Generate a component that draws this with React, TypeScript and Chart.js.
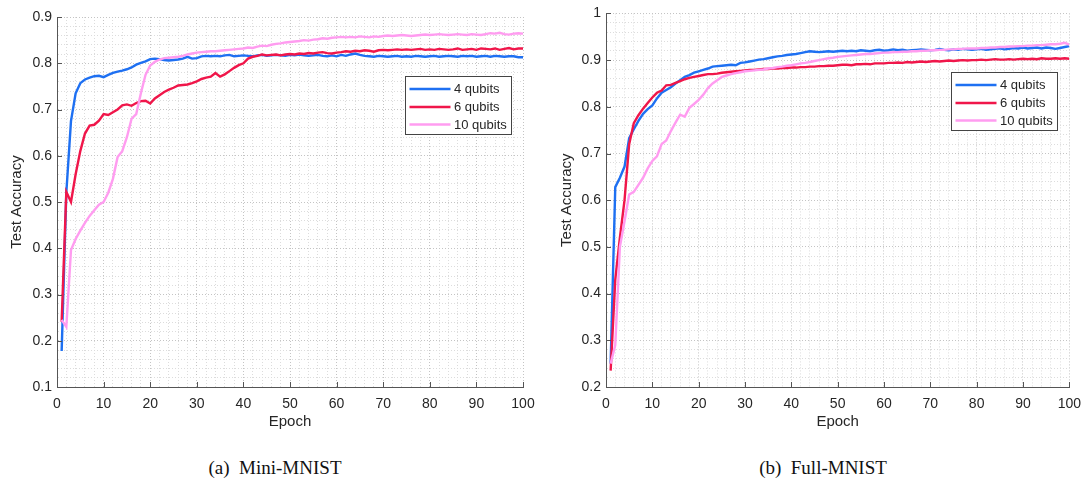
import React, { useEffect, useRef } from "react";
import { Chart, registerables } from "chart.js";

Chart.register(...registerables);

const EPOCHS: number[] = Array.from({ length: 100 }, (_, i) => i + 1);
const SERIES_LABELS = ["4 qubits", "6 qubits", "10 qubits"];
const SERIES_COLORS = ["#1e70f2", "#f0164a", "#ff9cf0"];

// (a) Mini-MNIST
const MINI_4Q = [
  0.178, 0.520, 0.675, 0.735, 0.757, 0.765, 0.769, 0.772, 0.773, 0.770,
  0.775, 0.779, 0.782, 0.784, 0.787, 0.791, 0.797, 0.801, 0.804, 0.809,
  0.810, 0.809, 0.807, 0.806, 0.807, 0.808, 0.810, 0.814, 0.810, 0.811,
  0.815, 0.816, 0.815, 0.816, 0.815, 0.817, 0.818, 0.815, 0.816, 0.817,
  0.816, 0.815, 0.817, 0.818, 0.816, 0.817, 0.818, 0.817, 0.816, 0.818,
  0.817, 0.819, 0.817, 0.816, 0.817, 0.818, 0.816, 0.815, 0.817, 0.815,
  0.818, 0.816, 0.819, 0.821, 0.818, 0.816, 0.815, 0.814, 0.816, 0.815,
  0.814, 0.815, 0.816, 0.814, 0.815, 0.814, 0.816, 0.815, 0.814, 0.815,
  0.816, 0.814, 0.815, 0.816, 0.815, 0.814, 0.816, 0.815, 0.816, 0.814,
  0.815, 0.816, 0.814, 0.816, 0.815, 0.814, 0.815, 0.815, 0.813, 0.813,
];
const MINI_6Q = [
  0.241, 0.522, 0.500, 0.560, 0.610, 0.648, 0.665, 0.667, 0.676, 0.690,
  0.688, 0.694, 0.700, 0.709, 0.711, 0.708, 0.714, 0.718, 0.719, 0.713,
  0.724, 0.731, 0.738, 0.743, 0.747, 0.752, 0.753, 0.754, 0.757, 0.761,
  0.766, 0.769, 0.771, 0.779, 0.771, 0.776, 0.783, 0.790, 0.796, 0.800,
  0.810, 0.814, 0.816, 0.819, 0.817, 0.818, 0.819, 0.817, 0.819, 0.820,
  0.819, 0.821, 0.820, 0.822, 0.821, 0.823, 0.824, 0.822, 0.821, 0.823,
  0.824, 0.826, 0.825, 0.827, 0.826, 0.828, 0.827, 0.825, 0.828, 0.829,
  0.828, 0.829, 0.830, 0.829, 0.830, 0.829, 0.830, 0.831, 0.829, 0.830,
  0.829, 0.831, 0.830, 0.829, 0.830, 0.832, 0.829, 0.830, 0.831, 0.829,
  0.832, 0.831, 0.830, 0.832, 0.829, 0.831, 0.833, 0.830, 0.832, 0.832,
];
const MINI_10Q = [
  0.245, 0.230, 0.396, 0.420, 0.438, 0.455, 0.470, 0.482, 0.494, 0.500,
  0.520, 0.550, 0.597, 0.610, 0.640, 0.680, 0.690, 0.735, 0.775, 0.795,
  0.803, 0.808, 0.811, 0.812, 0.813, 0.814, 0.816, 0.819, 0.821, 0.823,
  0.824, 0.825, 0.826, 0.826, 0.827, 0.828, 0.829, 0.830, 0.831, 0.832,
  0.834, 0.833, 0.836, 0.838, 0.837, 0.840, 0.842, 0.843, 0.845, 0.846,
  0.847, 0.848, 0.850, 0.849, 0.851, 0.852, 0.854, 0.853, 0.855, 0.856,
  0.857, 0.856, 0.857, 0.856, 0.858, 0.857, 0.856, 0.858, 0.857, 0.859,
  0.860, 0.859, 0.860, 0.861, 0.860, 0.859, 0.860, 0.861, 0.862, 0.861,
  0.862, 0.863, 0.862, 0.861, 0.862, 0.863, 0.862, 0.861, 0.863, 0.862,
  0.861, 0.863, 0.865, 0.864, 0.866, 0.863, 0.862, 0.864, 0.865, 0.864,
];

// (b) Full-MNIST
const FULL_4Q = [
  0.250, 0.628, 0.648, 0.672, 0.733, 0.752, 0.770, 0.785, 0.795, 0.803,
  0.818, 0.830, 0.836, 0.842, 0.850, 0.857, 0.864, 0.868, 0.873, 0.876,
  0.879, 0.882, 0.886, 0.887, 0.888, 0.889, 0.890, 0.889, 0.894, 0.895,
  0.897, 0.899, 0.901, 0.902, 0.904, 0.906, 0.908, 0.909, 0.911, 0.912,
  0.913, 0.915, 0.917, 0.919, 0.918, 0.917, 0.918, 0.919, 0.918, 0.919,
  0.920, 0.919, 0.920, 0.919, 0.921, 0.920, 0.919, 0.921, 0.922, 0.920,
  0.921, 0.923, 0.921, 0.922, 0.920, 0.921, 0.922, 0.923, 0.922, 0.921,
  0.922, 0.924, 0.922, 0.921, 0.923, 0.922, 0.924, 0.923, 0.922, 0.923,
  0.924, 0.922, 0.923, 0.924, 0.925, 0.923, 0.924, 0.926, 0.925, 0.927,
  0.925, 0.926, 0.927, 0.925, 0.927, 0.926, 0.924, 0.926, 0.928, 0.930,
];
const FULL_6Q = [
  0.235, 0.430, 0.520, 0.600, 0.720, 0.765, 0.782, 0.796, 0.808, 0.820,
  0.830, 0.835, 0.846, 0.847, 0.851, 0.855, 0.859, 0.862, 0.864, 0.866,
  0.868, 0.870, 0.870, 0.871, 0.873, 0.874, 0.875, 0.876, 0.877, 0.878,
  0.879, 0.879, 0.880, 0.881, 0.881, 0.882, 0.882, 0.883, 0.883, 0.884,
  0.884, 0.885, 0.885, 0.886, 0.886, 0.887, 0.887, 0.888, 0.888, 0.889,
  0.890, 0.890, 0.889, 0.891, 0.891, 0.892, 0.891, 0.893, 0.893, 0.893,
  0.894, 0.894, 0.895, 0.894, 0.896, 0.895, 0.896, 0.897, 0.896, 0.897,
  0.898, 0.897, 0.898, 0.899, 0.898, 0.899, 0.900, 0.899, 0.900, 0.900,
  0.901, 0.900, 0.901, 0.902, 0.901, 0.901, 0.902, 0.901, 0.902, 0.903,
  0.902, 0.903, 0.902, 0.904, 0.903, 0.903, 0.904, 0.903, 0.904, 0.903,
];
const FULL_10Q = [
  0.250, 0.290, 0.500, 0.555, 0.612, 0.618, 0.633, 0.648, 0.668, 0.684,
  0.694, 0.720, 0.728, 0.748, 0.766, 0.783, 0.779, 0.798, 0.806, 0.815,
  0.826, 0.840, 0.850, 0.857, 0.864, 0.867, 0.870, 0.872, 0.874, 0.876,
  0.877, 0.878, 0.879, 0.880, 0.882, 0.883, 0.885, 0.886, 0.888, 0.889,
  0.891, 0.893, 0.894, 0.896, 0.898, 0.900, 0.902, 0.904, 0.905, 0.907,
  0.908, 0.909, 0.910, 0.911, 0.912, 0.913, 0.913, 0.914, 0.915, 0.916,
  0.916, 0.917, 0.917, 0.918, 0.918, 0.919, 0.919, 0.920, 0.920, 0.921,
  0.921, 0.922, 0.922, 0.923, 0.923, 0.924, 0.924, 0.925, 0.925, 0.925,
  0.926, 0.926, 0.927, 0.927, 0.928, 0.928, 0.929, 0.929, 0.930, 0.930,
  0.931, 0.931, 0.932, 0.932, 0.933, 0.934, 0.934, 0.935, 0.937, 0.933,
];

const X_TITLE = "Epoch";
const Y_TITLE = "Test Accuracy";
const CAPTION_A = "(a)  Mini-MNIST";
const CAPTION_B = "(b)  Full-MNIST";

const SANS = "'Liberation Sans', Arial, sans-serif";
const TEXT_COLOR = "#262626";
const AXIS_COLOR = "#555555";

const isMajorY = (v: number) => Math.abs(v * 10 - Math.round(v * 10)) < 1e-6;
const isMajorX = (v: number) => Math.abs(v % 10) < 1e-6;

const inwardTicks = {
  id: "inwardTicks",
  afterDatasetsDraw(chart: any) {
    const { ctx, chartArea, scales } = chart;
    ctx.save();
    ctx.strokeStyle = AXIS_COLOR;
    ctx.lineWidth = 1;
    scales.x.ticks.forEach((t: any) => {
      if (!isMajorX(t.value)) return;
      const px = Math.round(scales.x.getPixelForValue(t.value)) + 0.5;
      ctx.beginPath();
      ctx.moveTo(px, chartArea.bottom);
      ctx.lineTo(px, chartArea.bottom - 5);
      ctx.stroke();
    });
    scales.y.ticks.forEach((t: any) => {
      if (!isMajorY(t.value)) return;
      const py = Math.round(scales.y.getPixelForValue(t.value)) + 0.5;
      ctx.beginPath();
      ctx.moveTo(chartArea.left, py);
      ctx.lineTo(chartArea.left + 5, py);
      ctx.stroke();
    });
    ctx.restore();
  },
};

const boxLegend = {
  id: "boxLegend",
  afterDraw(chart: any) {
    const { ctx, chartArea } = chart;
    const w = 106;
    const h = 58;
    const left = Math.round(chartArea.right - 12.5 - w) + 0.5;
    const top = Math.round(chartArea.top + 58.5) + 0.5;
    ctx.save();
    ctx.fillStyle = "#ffffff";
    ctx.fillRect(left, top, w, h);
    ctx.strokeStyle = "#444444";
    ctx.lineWidth = 1;
    ctx.strokeRect(left, top, w, h);
    const rows = [12.5, 30.5, 48];
    chart.data.datasets.forEach((ds: any, i: number) => {
      const y = top + rows[i];
      ctx.strokeStyle = ds.borderColor;
      ctx.lineWidth = 2.4;
      ctx.beginPath();
      ctx.moveTo(left + 4, y);
      ctx.lineTo(left + 45, y);
      ctx.stroke();
      ctx.fillStyle = TEXT_COLOR;
      ctx.font = `13px ${SANS}`;
      ctx.textBaseline = "middle";
      ctx.textAlign = "left";
      ctx.fillText(ds.label, left + 48.5, y + 0.5);
    });
    ctx.restore();
  },
};

type PanelProps = {
  series: number[][];
  yMin: number;
  yMax: number;
  padTop: number;
  padRight: number;
  yAxisWidth: number;
  yTitlePad: number;
};

function Panel({ series, yMin, yMax, padTop, padRight, yAxisWidth, yTitlePad }: PanelProps) {
  const ref = useRef<HTMLCanvasElement | null>(null);
  useEffect(() => {
    if (!ref.current) return;
    const datasets = series.map((vals, i) => ({
      label: SERIES_LABELS[i],
      data: vals.map((v, j) => ({ x: EPOCHS[j], y: v })),
      borderColor: SERIES_COLORS[i],
      backgroundColor: SERIES_COLORS[i],
      borderWidth: 2.4,
      pointRadius: 0,
      tension: 0,
      fill: false,
      order: 2 - i,
    }));
    const gridColor = (ctx: any) =>
      ctx.tick && ctx.tick.label !== "" ? "#c4c4c4" : "#dcdcdc";
    const chart = new Chart(ref.current, {
      type: "line",
      data: { datasets },
      plugins: [inwardTicks, boxLegend],
      options: {
        animation: false,
        responsive: false,
        events: [],
        layout: {
          autoPadding: false,
          padding: { left: 0, right: padRight, top: padTop, bottom: 0 },
        },
        plugins: { legend: { display: false }, tooltip: { enabled: false } },
        scales: {
          x: {
            type: "linear",
            min: 0,
            max: 100,
            ticks: {
              stepSize: 2,
              autoSkip: false,
              maxRotation: 0,
              padding: 9,
              color: TEXT_COLOR,
              font: { family: SANS, size: 14 },
              callback: (v: any) => (isMajorX(Number(v)) ? String(v) : ""),
            },
            grid: { drawTicks: false, color: gridColor, lineWidth: 1 },
            border: { display: true, color: AXIS_COLOR, width: 1, dash: [1, 2] },
            title: {
              display: true,
              text: X_TITLE,
              color: TEXT_COLOR,
              font: { family: SANS, size: 15 },
              padding: { top: 0, bottom: 9 },
            },
            afterFit: (s: any) => {
              s.height = 53;
            },
          },
          y: {
            type: "linear",
            min: yMin,
            max: yMax,
            ticks: {
              stepSize: 0.02,
              autoSkip: false,
              padding: 5,
              color: TEXT_COLOR,
              font: { family: SANS, size: 14 },
              callback: (v: any) => {
                const n = Number(v);
                if (!isMajorY(n)) return "";
                const r = Math.round(n * 10) / 10;
                return r === 1 ? "1" : r.toFixed(1);
              },
            },
            grid: { drawTicks: false, color: gridColor, lineWidth: 1 },
            border: { display: true, color: AXIS_COLOR, width: 1, dash: [1, 2] },
            title: {
              display: true,
              text: Y_TITLE,
              color: TEXT_COLOR,
              font: { family: SANS, size: 15 },
              padding: { top: yTitlePad, bottom: 0 },
            },
            afterFit: (s: any) => {
              s.width = yAxisWidth;
            },
          },
        },
      } as any,
    });
    return () => chart.destroy();
  }, []);
  return <canvas ref={ref} width={545} height={440} style={{ display: "block" }} />;
}

const captionStyle = (center: number): React.CSSProperties => ({
  position: "absolute",
  left: center - 200,
  width: 400,
  top: 458,
  textAlign: "center",
  fontFamily: "'Liberation Serif', 'Times New Roman', serif",
  fontSize: 19,
  lineHeight: "20px",
  whiteSpace: "pre",
  color: "#111111",
});

export default function App() {
  return (
    <div
      style={{
        position: "absolute",
        left: 0,
        top: 0,
        width: 1090,
        height: 483,
        background: "#ffffff",
        overflow: "hidden",
      }}
    >
      <div style={{ position: "absolute", left: 0, top: 0 }}>
        <Panel
          series={[MINI_4Q, MINI_6Q, MINI_10Q]}
          yMin={0.1}
          yMax={0.9}
          padTop={17}
          padRight={22}
          yAxisWidth={57}
          yTitlePad={8}
        />
      </div>
      <div style={{ position: "absolute", left: 545, top: 0 }}>
        <Panel
          series={[FULL_4Q, FULL_6Q, FULL_10Q]}
          yMin={0.2}
          yMax={1}
          padTop={13}
          padRight={20}
          yAxisWidth={61}
          yTitlePad={13}
        />
      </div>
      <div style={captionStyle(275)}>{CAPTION_A}</div>
      <div style={captionStyle(823)}>{CAPTION_B}</div>
    </div>
  );
}
